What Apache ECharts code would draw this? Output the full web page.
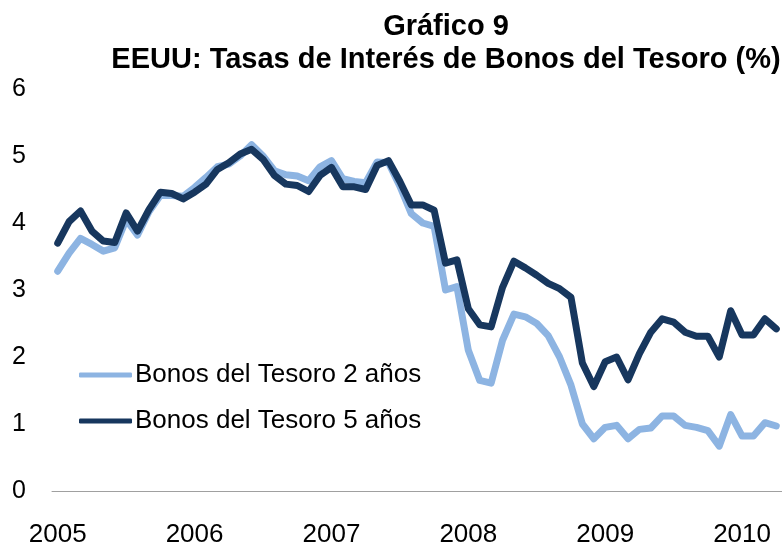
<!DOCTYPE html>
<html>
<head>
<meta charset="utf-8">
<title>Gráfico 9</title>
<script src="https://cdn.jsdelivr.net/npm/echarts@6/dist/echarts.min.js"></script>
<style>
  html, body { margin: 0; padding: 0; background: #fff; }
  #chart { width: 782px; height: 548px; }
</style>
</head>
<body>
<div id="chart"></div>
<script>
// años del eje x (un punto por mes, ene-2005 a abr-2010)
const years = ['2005', '2006', '2007', '2008', '2009', '2010']
const monthsLastYear = 4

// Bonos del Tesoro 2 años (%)
const bonos2 = [
  3.28, 3.55, 3.77, 3.68, 3.58, 3.63, 4.05, 3.82, 4.17, 4.41, 4.41, 4.40,
  4.53, 4.68, 4.84, 4.88, 5.00, 5.17, 5.00, 4.78, 4.72, 4.70, 4.63, 4.84,
  4.93, 4.66, 4.62, 4.60, 4.91, 4.90, 4.55, 4.14, 4.00, 3.95, 3.00, 3.05,
  2.10, 1.65, 1.61, 2.25, 2.64, 2.60, 2.50, 2.32, 2.00, 1.58, 1.00, 0.78,
  0.95, 0.98, 0.78, 0.92, 0.94, 1.12, 1.12, 0.98, 0.95, 0.90, 0.67, 1.14,
  0.82, 0.82, 1.02, 0.97
]

// Bonos del Tesoro 5 años (%)
const bonos5 = [
  3.70, 4.02, 4.18, 3.88, 3.73, 3.71, 4.15, 3.88, 4.20, 4.46, 4.44, 4.36,
  4.46, 4.58, 4.80, 4.90, 5.03, 5.10, 4.95, 4.71, 4.58, 4.56, 4.47, 4.71,
  4.83, 4.54, 4.54, 4.50, 4.86, 4.93, 4.62, 4.27, 4.27, 4.19, 3.40, 3.45,
  2.72, 2.48, 2.45, 3.04, 3.43, 3.33, 3.22, 3.10, 3.02, 2.89, 1.91, 1.56,
  1.93, 2.00, 1.66, 2.05, 2.37, 2.57, 2.52, 2.37, 2.31, 2.31, 2.00, 2.69,
  2.33, 2.33, 2.57, 2.42
]

const seriesNames = ['Bonos del Tesoro 2 años', 'Bonos del Tesoro 5 años']
const seriesColors = ['#8DB4E2', '#17375E']

// categorias mensuales
const months = []
years.forEach((y, i) => {
  const n = i === years.length - 1 ? monthsLastYear : 12
  for (let m = 1; m <= n; m++) months.push(y + '-' + (m < 10 ? '0' + m : m))
})

const chartInstance = echarts.init(document.getElementById('chart'))

const lineSerie = (name, data, color) => ({
  name: name,
  type: 'line',
  data: data,
  symbol: 'none',
  smooth: false,
  clip: true,
  itemStyle: { color: color },
  lineStyle: { color: color, width: 7, cap: 'round', join: 'round' }
})

const option = {
  animation: false,
  backgroundColor: '#fff',
  textStyle: { fontFamily: 'Liberation Sans, Arial, sans-serif' },
  title: {
    text: 'Gráfico 9\nEEUU: Tasas de Interés de Bonos del Tesoro (%)',
    left: 441,
    textAlign: 'center',
    top: 5,
    textStyle: {
      fontSize: 29,
      fontWeight: 'bold',
      color: '#000',
      lineHeight: 33,
      fontFamily: 'Liberation Sans, Arial, sans-serif'
    }
  },
  legend: {
    orient: 'vertical',
    left: 74,
    top: 357,
    itemWidth: 53,
    itemHeight: 5,
    itemGap: 20,
    icon: 'roundRect',
    data: seriesNames,
    textStyle: { fontSize: 26, color: '#000', padding: [0, 0, 0, -2] }
  },
  grid: { left: 52, right: 0, top: 89, bottom: 52 },
  xAxis: {
    type: 'category',
    data: months,
    boundaryGap: true,
    axisLine: { lineStyle: { color: '#A0A0A0', width: 1 } },
    axisTick: { interval: 11, length: 7, lineStyle: { color: '#A0A0A0' } },
    axisLabel: {
      interval: 11,
      margin: 31,
      fontSize: 26,
      color: '#000',
      formatter: v => v.slice(0, 4)
    },
    splitLine: { show: false }
  },
  yAxis: {
    type: 'value',
    min: 0,
    max: 6,
    interval: 1,
    axisLine: { show: false },
    axisTick: { show: false },
    splitLine: { show: false },
    axisLabel: { fontSize: 25, color: '#000', margin: 26 }
  },
  series: [
    lineSerie(seriesNames[0], bonos2, seriesColors[0]),
    lineSerie(seriesNames[1], bonos5, seriesColors[1])
  ]
}

chartInstance.setOption(option)
</script>
</body>
</html>
